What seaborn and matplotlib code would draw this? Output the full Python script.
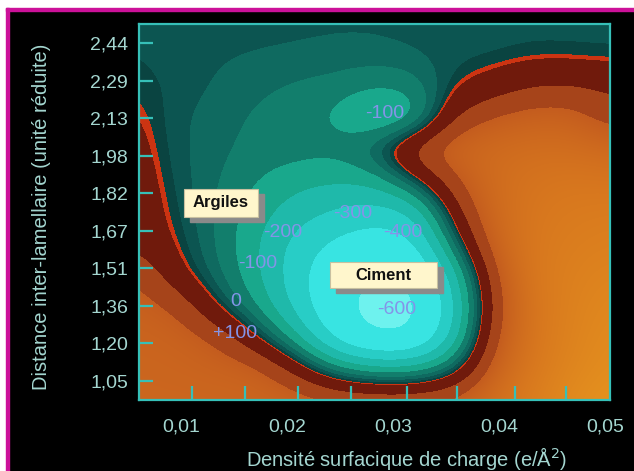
import matplotlib
matplotlib.use("Agg")
import matplotlib.pyplot as plt
import matplotlib.patches as mpatches
from matplotlib.colors import LinearSegmentedColormap, Normalize
import seaborn as sns
import numpy as np

# Potential map: 13 x 13 points, rows top -> bottom,
# columns left -> right, spanning the whole plotting area.
row_00 = [-25, -35, -40, -40, -42, -45, -45, -40, -35, -30, -30, -30, -30]
row_01 = [-20, -35, -45, -50, -55, -60, -60, -50, -30, -30, -15, -18, -22]
row_02 = [-5, -30, -55, -80, -100, -110, -150, -130, -5, 50, 110, 120, 90]
row_03 = [20, -45, -70, -100, -115, -175, -265, -235, 120, 210, 250, 250, 150]
row_04 = [40, -45, -75, -110, -115, -120, -40, 200, 280, 310, 330, 330, 300]
row_05 = [55, -35, -85, -150, -200, -220, -200, -30, 180, 320, 370, 390, 380]
row_06 = [65, -20, -95, -190, -280, -340, -390, -340, 60, 300, 390, 420, 430]
row_07 = [80, 0, -95, -220, -370, -480, -540, -500, -80, 260, 400, 440, 460]
row_08 = [200, 30, -75, -210, -400, -580, -660, -640, -300, 180, 400, 460, 490]
row_09 = [240, 190, -5, -150, -370, -600, -720, -720, -380, 140, 380, 470, 520]
row_10 = [260, 250, 190, 15, -200, -520, -680, -660, -330, 180, 380, 480, 540]
row_11 = [270, 265, 255, 240, 90, -120, -200, -200, -80, 250, 400, 500, 560]
row_12 = [275, 275, 275, 275, 260, 230, 220, 220, 240, 330, 440, 540, 600]

# axis ranges and ticks
x_min, x_max = 0.00604, 0.05047
y_min, y_max = 0.972, 2.518
x_tick_values = [0.01, 0.02, 0.03, 0.04, 0.05]
x_tick_labels = ["0,01", "0,02", "0,03", "0,04", "0,05"]
x_tick_marks = [0.011, 0.016, 0.021, 0.026, 0.0313, 0.036, 0.0415, 0.0463]
y_tick_labels = ["1,05", "1,20", "1,36", "1,51", "1,67", "1,82", "1,98", "2,13", "2,29", "2,44"]

# contour value bands (lower bound, colour), then smooth orange part
band_bounds = [-900, -650, -450, -330, -230, -150, -90, -50, -20, 0, 10, 110]
band_colors = ["#6ef2ee", "#38e4e2", "#28cdc6", "#1fb9aa", "#19a88c", "#127e6c",
               "#0f6a60", "#0c5551", "#0a4441", "#cc3412", "#701a0c", "#a6441a"]
orange_bounds = [200, 400, 700]
orange_colors = ["#c45c1e", "#d8781e", "#eca01e"]

contour_texts = ["-100", "-300", "-400", "-200", "-100", "0", "+100", "-600"]

grid = np.array([row_00, row_01, row_02, row_03, row_04, row_05, row_06,
                 row_07, row_08, row_09, row_10, row_11, row_12], dtype=float)

vmin, vmax = band_bounds[0], orange_bounds[-1]
def pos(v):
    return (v - vmin) / (vmax - vmin)

stops = []
all_bounds = band_bounds + [orange_bounds[0]]
for i, c in enumerate(band_colors):
    stops.append((pos(all_bounds[i]), c))
    stops.append((pos(all_bounds[i + 1]), c))
for b, c in zip(orange_bounds, orange_colors):
    stops.append((pos(b), c))
cmap = LinearSegmentedColormap.from_list("potentiel", stops, N=4096)

sns.set_theme(style="dark")
plt.rcParams["font.family"] = ["Liberation Sans", "DejaVu Sans"]

W, H = 634, 471
fig = plt.figure(figsize=(W / 100, H / 100), dpi=100, facecolor="black")

# white margin + magenta frame at top and left
fig.patches.append(mpatches.Rectangle((0, 1 - 8 / H), 1, 8 / H, transform=fig.transFigure,
                                      color="white", zorder=0))
fig.patches.append(mpatches.Rectangle((0, 0), 6 / W, 1, transform=fig.transFigure,
                                      color="white", zorder=0))
fig.patches.append(mpatches.Rectangle((6 / W, 1 - 11 / H), 1, 3 / H, transform=fig.transFigure,
                                      color="#cc1199", zorder=1))
fig.patches.append(mpatches.Rectangle((6 / W, 0), 3 / W, 1 - 8 / H, transform=fig.transFigure,
                                      color="#cc1199", zorder=1))

ax = fig.add_axes([139 / W, (H - 400) / H, 471 / W, 376 / H])
ax.set_facecolor("black")

nr, nc = grid.shape
dx = (x_max - x_min) / (nc - 1)
dy = (y_max - y_min) / (nr - 1)
ax.imshow(grid, cmap=cmap, norm=Normalize(vmin, vmax), origin="upper", aspect="auto",
          extent=(x_min - dx / 2, x_max + dx / 2, y_min - dy / 2, y_max + dy / 2),
          interpolation="bicubic", interpolation_stage="data")
ax.set_xlim(x_min, x_max)
ax.set_ylim(y_min, y_max)
ax.grid(False)

def px(x, y):
    # picture pixel -> data coords
    return (x_min + (x - 139) / 471 * (x_max - x_min),
            y_min + (400 - y) / 376 * (y_max - y_min))

spine_c = "#36c0b8"
text_c = "#a4d6d0"
for s in ax.spines.values():
    s.set_color(spine_c)
    s.set_linewidth(1.6)
    s.set_visible(True)

y_ticks = np.linspace(1.05, 2.44, len(y_tick_labels))
ax.set_yticks(y_ticks)
ax.set_yticklabels(y_tick_labels)
ax.tick_params(axis="y", direction="in", length=10, width=1.6, color=spine_c,
               labelcolor=text_c, labelsize=14, pad=8, left=True)
ax.set_xticks(x_tick_values)
ax.set_xticklabels(x_tick_labels)
ax.set_xticks(x_tick_marks, minor=True)
ax.tick_params(axis="x", which="major", length=0, labelcolor=text_c, labelsize=14, pad=13)
ax.tick_params(axis="x", which="minor", direction="in", length=10, width=1.6,
               color=spine_c, bottom=True)

fig.text(42 / W, 1 - 217 / H, "Distance inter-lamellaire (unité réduite)", rotation=90,
         ha="center", va="center", color=text_c, fontsize=14.5)
fig.text(407 / W, 1 - 458 / H, "Densité surfacique de charge (e/Å$^2$)",
         ha="center", va="center", color=text_c, fontsize=14.5)

# value labels on the map
label_px = [(385, 113), (353, 213), (403, 233), (283, 233), (258, 264), (236, 302),
            (235, 334), (397, 309)]
for t, (lx, ly) in zip(contour_texts, label_px):
    ax.text(*px(lx, ly), t, ha="center", va="center", color="#8494e8", fontsize=14)

# boxed region names with drop shadow
for name, (bx0, by0, bx1, by1) in [("Argiles", (184, 189, 258, 217)),
                                   ("Ciment", (330, 262, 437, 288))]:
    x0, y0 = px(bx0 + 6, by1 + 5)
    x1, y1 = px(bx1 + 6, by0 + 5)
    ax.add_patch(mpatches.Rectangle((x0, y0), x1 - x0, y1 - y0, color="#8a8a8a", zorder=3))
    x0, y0 = px(bx0, by1)
    x1, y1 = px(bx1, by0)
    ax.add_patch(mpatches.Rectangle((x0, y0), x1 - x0, y1 - y0, facecolor="#fff6cc",
                                    edgecolor="#c8c0a0", lw=0.8, zorder=4))
    ax.text((x0 + x1) / 2, (y0 + y1) / 2, name, ha="center", va="center",
            fontsize=12, fontweight="bold", color="#111111", zorder=5)

fig.savefig("out.png", dpi=100, facecolor="black")
